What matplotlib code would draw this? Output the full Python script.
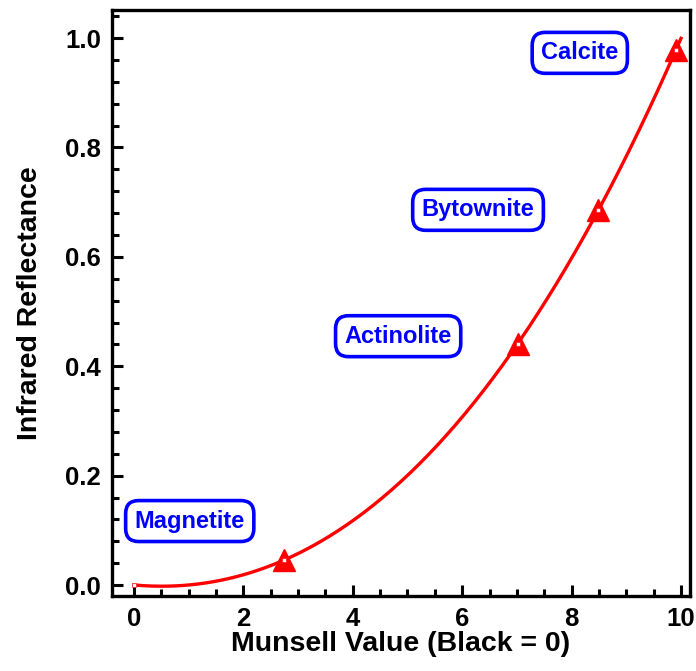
import numpy as np
import matplotlib
matplotlib.use("Agg")
import matplotlib.pyplot as plt
from matplotlib.ticker import MultipleLocator

plt.rcParams['font.family'] = ['Liberation Sans', 'DejaVu Sans']
plt.rcParams['font.weight'] = 'bold'

munsell = [0.0, 2.74, 7.02, 8.48, 9.91]
reflect = [0.0, 0.046, 0.44, 0.686, 0.978]
minerals = ["Magnetite", "Actinolite", "Bytownite", "Calcite"]
label_x = [1.02, 4.83, 6.29, 8.15]
label_y = [0.117, 0.455, 0.686, 0.973]

fig = plt.figure(figsize=(6.96, 6.71), dpi=100)
ax = fig.add_axes([0.161, 0.1118, 0.83, 0.873])

coef = np.polyfit(munsell, reflect, 3)
xs = np.linspace(0, 10, 300)
ax.plot(xs, np.polyval(coef, xs), color='red', lw=2.4, zorder=2)
ax.plot(munsell[1:], reflect[1:], linestyle='none', marker='^', ms=16,
        color='red', zorder=3)
ax.plot(munsell, reflect, linestyle='none', marker='s', ms=2.2,
        color='white', mec='red', mew=0.4, zorder=4)

for name, lx, ly in zip(minerals, label_x, label_y):
    ax.text(lx, ly, name, color='#0000ff', fontsize=17, fontweight='bold',
            ha='center', va='center',
            bbox=dict(boxstyle='round,pad=0.38,rounding_size=0.55',
                      fc='white', ec='#0000ff', lw=2.6))

ax.set_xlim(-0.4, 10.16)
ax.set_ylim(-0.02, 1.051)
ax.xaxis.set_minor_locator(MultipleLocator(0.5))
ax.yaxis.set_minor_locator(MultipleLocator(0.04))
ax.set_xticks([0, 2, 4, 6, 8, 10])
ax.set_xticklabels(['0', '2', '4', '6', '8', '10'])
ax.set_yticks([0.0, 0.2, 0.4, 0.6, 0.8, 1.0])
ax.set_yticklabels(['0.0', '0.2', '0.4', '0.6', '0.8', '1.0'])

for s in ax.spines.values():
    s.set_linewidth(2.4)
ax.tick_params(which='both', direction='in', top=False, right=False,
               width=2.2, labelsize=18.5)
ax.tick_params(which='major', length=8, pad=8)
ax.tick_params(which='minor', length=5)
for lab in ax.get_xticklabels() + ax.get_yticklabels():
    lab.set_fontweight('bold')

ax.set_xlabel('Munsell Value (Black = 0)', fontsize=20.5, fontweight='bold',
              labelpad=0)
ax.set_ylabel('Infrared Reflectance', fontsize=20.5, fontweight='bold',
              labelpad=16)

fig.savefig('out.png', dpi=100)
